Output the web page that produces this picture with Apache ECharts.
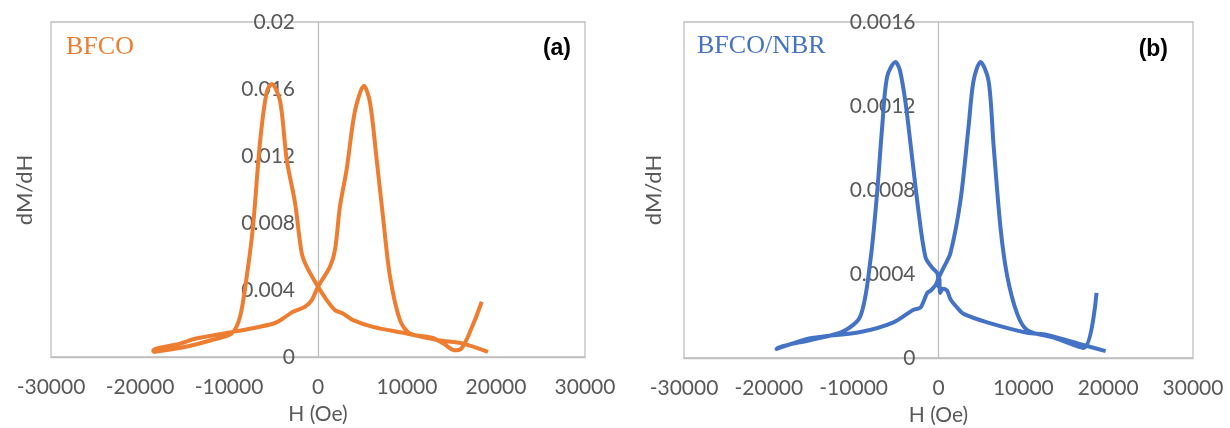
<!DOCTYPE html>
<html>
<head>
<meta charset="utf-8">
<script src="https://cdn.jsdelivr.net/npm/echarts@6/dist/echarts.min.js"></script>
<style>
  html, body { margin: 0; padding: 0; background: #fff; }
  #main { width: 1230px; height: 428px; }
</style>
</head>
<body>
<div id="main"></div>
<script>
// 数据：H (Oe) 与 dM/dH，按测量顺序（先降场，再升场）
var bfcoField = [19100, 16300, 13500, 9960, 6180, 3930, 2800, 1910, 980, 0,
  -1270, -1830, -2580, -3520, -4270, -5200, -5770, -6520, -7300, -8010,
  -8760, -9700, -12000, -15000, -18500,
  -18500, -15500, -13700, -10100, -7500, -5000, -3930, -2810, -1460, -700,
  0, 1350, 1910, 2470, 3220, 4160, 5170, 5840, 6590, 7340,
  8090, 9210, 10340, 12800, 14100, 15400, 16100, 17000, 18400];
var bfcoSlope = [0.0003, 0.0008, 0.0010, 0.0014, 0.0018, 0.0022, 0.0026, 0.0028, 0.0034, 0.0042,
  0.0054, 0.0062, 0.0092, 0.0118, 0.0153, 0.0163, 0.0158, 0.0128, 0.0078, 0.0048,
  0.0024, 0.0014, 0.0010, 0.0006, 0.0003,
  0.0004, 0.0008, 0.0011, 0.00145, 0.0017, 0.0020, 0.0023, 0.0027, 0.0030, 0.0034,
  0.0042, 0.0054, 0.0064, 0.0090, 0.0112, 0.0147, 0.0162, 0.0152, 0.0118, 0.0082,
  0.0048, 0.0022, 0.0014, 0.00115, 0.0008, 0.0004, 0.0005, 0.0014, 0.0033];

var nbrField = [19700, 16970, 12800, 10460, 5740, 2950, 2200, 1410, 1020, 500,
  200, 100, 0, -100, -750, -1530, -2360, -3300, -3900, -4550,
  -5070, -6050, -6640, -7230, -8010, -9200, -11230, -14930, -19090,
  -19090, -14930, -9200, -5300, -2950, -2120, -1330, -940, -300, 0,
  600, 1410, 2590, 3540, 4130, 4950, 5900, 6480, 7310, 8100,
  9280, 10460, 13730, 17100, 18630];
var nbrSlope = [0.000033, 0.000063, 0.00011, 0.00012, 0.00017, 0.00021, 0.00024, 0.00028, 0.00032, 0.00033,
  0.00031, 0.00038, 0.00034, 0.0004, 0.00043, 0.00048, 0.0007, 0.00102, 0.00122, 0.00137,
  0.00141, 0.00134, 0.0011, 0.00079, 0.00047, 0.0002, 0.000127, 0.000087, 0.000043,
  0.00004, 0.000095, 0.000124, 0.00017, 0.00023, 0.00024, 0.00031, 0.00032, 0.00035, 0.00038,
  0.00043, 0.0005, 0.00075, 0.0011, 0.00132, 0.00141, 0.00132, 0.00102, 0.00062, 0.00039,
  0.00021, 0.000133, 0.000095, 0.000048, 0.00031];

var xTicks = [-30000, 30000, 10000];   // min, max, interval
var yTicksA = [0, 0.02, 0.004];
var yTicksB = [0, 0.0016, 0.0004];

function pairs(xs, ys) {
  var out = [];
  for (var i = 0; i < xs.length; i++) out.push([xs[i], ys[i]]);
  return out;
}

var gray = '#595959';
var lineGray = '#BFBFBF';
var font = 'Lato';

function xAxisOpt(idx) {
  return {
    type: 'value', gridIndex: idx,
    min: xTicks[0], max: xTicks[1], interval: xTicks[2],
    name: 'H (Oe)', nameLocation: 'middle', nameGap: 47,
    nameTextStyle: { color: gray, fontSize: 21, fontFamily: font },
    axisLine: { onZero: false, lineStyle: { color: lineGray, width: 1.3 } },
    axisTick: { show: false },
    splitLine: { show: false },
    axisLabel: {
      color: gray, fontSize: 21, fontFamily: font, margin: 20,
      formatter: function (v) { return String(v); }
    }
  };
}

// y轴放在 H=0 处：用 offset 把整条轴（含标签）移过去
function yAxisOpt(idx, t, shift) {
  return {
    type: 'value', gridIndex: idx,
    min: t[0], max: t[1], interval: t[2],
    offset: -shift,
    axisLine: { onZero: false, lineStyle: { color: lineGray, width: 1.3 } },
    axisTick: { show: false },
    splitLine: { show: false },
    axisLabel: { color: gray, fontSize: 21, fontFamily: font, margin: 23 }
  };
}

var myChart = echarts.init(document.getElementById('main'), null, { renderer: 'canvas' });
option = {
  backgroundColor: '#fff',
  animation: false,
  grid: [
    { left: 51, top: 22, width: 534, height: 335, show: true, borderColor: lineGray, borderWidth: 1.3,
      outerBoundsMode: 'none', containLabel: false },
    { left: 684, top: 22, width: 509, height: 336, show: true, borderColor: lineGray, borderWidth: 1.3,
      outerBoundsMode: 'none', containLabel: false }
  ],
  xAxis: [xAxisOpt(0), xAxisOpt(1)],
  yAxis: [yAxisOpt(0, yTicksA, 267), yAxisOpt(1, yTicksB, 254.5)],
  series: [
    {
      type: 'line', xAxisIndex: 0, yAxisIndex: 0,
      data: pairs(bfcoField, bfcoSlope),
      showSymbol: false, smooth: 0.3,
      lineStyle: { color: '#ED7D31', width: 4 }
    },
    {
      type: 'line', xAxisIndex: 1, yAxisIndex: 1,
      data: pairs(nbrField, nbrSlope),
      showSymbol: false, smooth: 0.3,
      lineStyle: { color: '#4472C4', width: 4 }
    }
  ],
  graphic: [
    { type: 'text', x: 25, y: 190, rotation: Math.PI / 2,
      style: { text: 'dM/dH', fill: gray, font: '22px Lato', align: 'center', verticalAlign: 'middle' } },
    { type: 'text', x: 654, y: 190, rotation: Math.PI / 2,
      style: { text: 'dM/dH', fill: gray, font: '22px Lato', align: 'center', verticalAlign: 'middle' } },
    { type: 'text', x: 66, y: 47,
      style: { text: 'BFCO', fill: '#ED7D31', font: '26px "Liberation Serif"', verticalAlign: 'middle' } },
    { type: 'text', x: 697, y: 46,
      style: { text: 'BFCO/NBR', fill: '#4472C4', font: '26px "Liberation Serif"', verticalAlign: 'middle' } },
    { type: 'text', x: 571, y: 49,
      style: { text: '(a)', fill: '#000', font: 'bold 23px "Liberation Sans"', align: 'right', verticalAlign: 'middle' } },
    { type: 'text', x: 1168, y: 50,
      style: { text: '(b)', fill: '#000', font: 'bold 23px "Liberation Sans"', align: 'right', verticalAlign: 'middle' } }
  ]
};
myChart.setOption(option);
</script>
</body>
</html>
